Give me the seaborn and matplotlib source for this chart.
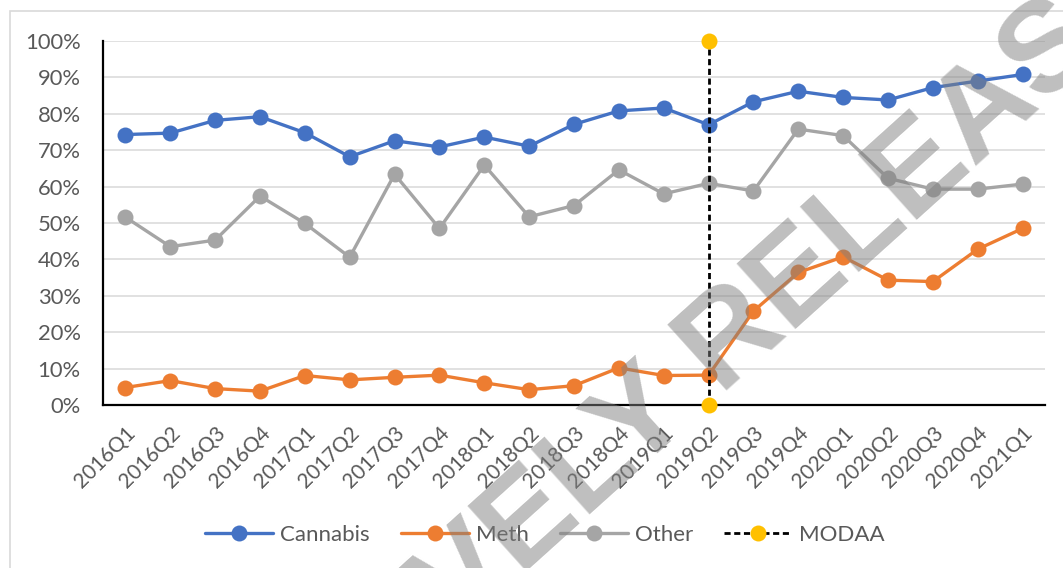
import matplotlib
matplotlib.use("Agg")
import matplotlib.pyplot as plt
from matplotlib.patches import Rectangle
from matplotlib.ticker import PercentFormatter
import numpy as np
import pandas as pd
import seaborn as sns

quarters = [
    "2016Q1", "2016Q2", "2016Q3", "2016Q4",
    "2017Q1", "2017Q2", "2017Q3", "2017Q4",
    "2018Q1", "2018Q2", "2018Q3", "2018Q4",
    "2019Q1", "2019Q2", "2019Q3", "2019Q4",
    "2020Q1", "2020Q2", "2020Q3", "2020Q4",
    "2021Q1",
]
cannabis = [0.743, 0.747, 0.782, 0.792, 0.748, 0.682, 0.726, 0.709, 0.736, 0.711,
            0.771, 0.808, 0.816, 0.770, 0.833, 0.862, 0.845, 0.838, 0.872, 0.890, 0.908]
meth = [0.048, 0.067, 0.045, 0.038, 0.081, 0.069, 0.076, 0.082, 0.061, 0.042,
        0.053, 0.102, 0.081, 0.082, 0.258, 0.364, 0.407, 0.343, 0.339, 0.428, 0.485]
other = [0.516, 0.435, 0.453, 0.574, 0.499, 0.406, 0.634, 0.485, 0.659, 0.517,
         0.548, 0.646, 0.580, 0.609, 0.588, 0.758, 0.740, 0.623, 0.593, 0.593, 0.607]
modaa_quarter = "2019Q2"
modaa_values = [0.0, 1.0]

series_names = ["Cannabis", "Meth", "Other"]
series_colors = ["#4472C4", "#ED7D31", "#A5A5A5"]

df = pd.DataFrame({"quarter": quarters, "Cannabis": cannabis, "Meth": meth, "Other": other})
df["pos"] = np.arange(len(quarters))

sns.set_theme(style="white")
plt.rcParams["font.family"] = ["Lato", "DejaVu Sans"]

fig = plt.figure(figsize=(10.63, 5.68), dpi=100)
ax = fig.add_axes([0.0969, 0.287, 0.8862, 0.6408])

marker_kw = dict(marker="o", markersize=11.5, markeredgewidth=0, linewidth=2.4)
for name, color in zip(series_names, series_colors):
    sns.lineplot(data=df, x="pos", y=name, color=color, label=name, ax=ax,
                 estimator=None, sort=False, markerfacecolor=color, **marker_kw)

modaa_pos = quarters.index(modaa_quarter)
sns.lineplot(x=[modaa_pos] * len(modaa_values), y=modaa_values, ax=ax, estimator=None,
             sort=False, color="black", linestyle=(0, (2.2, 1.3)), linewidth=2.0,
             marker="o", markersize=11.5, markeredgewidth=0,
             markerfacecolor="#FFC000", label="MODAA", clip_on=False, zorder=5)

ax.set_xlim(-0.5, len(quarters) - 0.5)
ax.set_ylim(0, 1)
ax.set_yticks(np.arange(0, 1.01, 0.1))
ax.yaxis.set_major_formatter(PercentFormatter(1.0, decimals=0))
ax.set_xticks(df["pos"])
ax.set_xticklabels(quarters, rotation=45, ha="right", rotation_mode="anchor")
ax.set_xlabel("")
ax.set_ylabel("")
ax.tick_params(axis="both", length=0, labelcolor="#595959")
ax.tick_params(axis="y", pad=16, labelsize=15.8)
ax.tick_params(axis="x", pad=13, labelsize=15)
ax.grid(axis="y", color="#D9D9D9", linewidth=1.1)
ax.set_axisbelow(True)
for side in ["top", "right"]:
    ax.spines[side].set_visible(False)
for side in ["left", "bottom"]:
    ax.spines[side].set_color("black")
    ax.spines[side].set_linewidth(1.6)

handles, labels = ax.get_legend_handles_labels()
ax.legend(handles, labels, loc="center", bbox_to_anchor=(545 / 1063, 0.058),
          bbox_transform=fig.transFigure, ncol=4, frameon=False,
          fontsize=16, labelcolor="#595959", handlelength=3.06,
          handletextpad=0.32, columnspacing=1.4)

# chart area frame
fig.patches.append(Rectangle((10 / 1063, -0.2), 1.2, 1 - 11 / 568 + 0.2,
                             transform=fig.transFigure, fill=False,
                             edgecolor="#D9D9D9", linewidth=1.2))

# diagonal release stamp
fig.text(603 / 1063, 1 - 440 / 568, "PROACTIVELY RELEASED", fontsize=92,
         family="Liberation Sans", weight="bold", color="#7F7F7F", alpha=0.5,
         rotation=42, rotation_mode="anchor", ha="center", va="center_baseline",
         zorder=20)

fig.savefig("out.png", dpi=100)
